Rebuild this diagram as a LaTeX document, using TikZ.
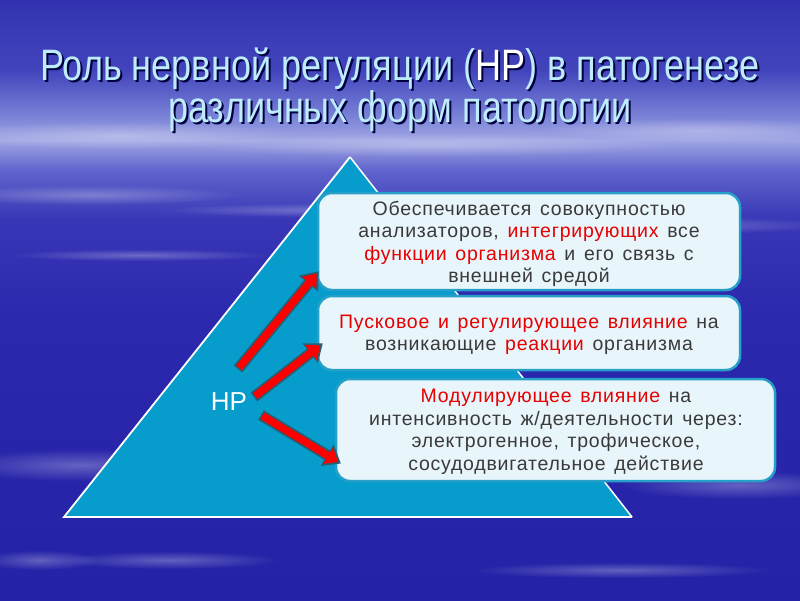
\documentclass[tikz,border=0pt]{standalone}
\usepackage{fontspec}
\setmainfont{Liberation Sans}
\newfontfamily\titlefont[FakeStretch=0.82]{Liberation Sans}
\newfontfamily\boxfont[LetterSpace=4,WordSpace=1.4]{Liberation Sans}
\usetikzlibrary{arrows.meta,fadings,calc}
\definecolor{bgA}{RGB}{50,50,176}
\definecolor{bgB}{RGB}{66,68,188}
\definecolor{bgC}{RGB}{120,128,214}
\definecolor{bgD}{RGB}{160,166,228}
\definecolor{bgE}{RGB}{96,100,204}
\definecolor{bgF}{RGB}{56,54,182}
\definecolor{bgG}{RGB}{44,40,174}
\definecolor{bgH}{RGB}{36,34,166}
\definecolor{tri}{RGB}{6,156,204}
\definecolor{boxfill}{RGB}{232,245,251}
\definecolor{boxline}{RGB}{38,160,200}
\definecolor{txt}{RGB}{58,58,58}
\definecolor{hl}{RGB}{230,0,0}
\definecolor{titlec}{RGB}{190,236,250}
\definecolor{arrline}{RGB}{40,95,115}
\tikzfading[name=softfade, inner color=transparent!20, outer color=transparent!100]
\tikzset{
 infobox/.style={draw=boxline, line width=2.5pt, fill=boxfill, rounded corners=14pt},
 boxtext/.style={text=txt, font=\boxfont\fontsize{19.5}{22.5}\selectfont, align=center},
 titletext/.style={font=\titlefont\fontsize{44}{42}\selectfont, align=center},
 redarrow/.style={-{Triangle[length=16pt,width=24pt]}, line width=11pt, arrline, shorten >=-1pt},
 redarrowin/.style={-{Triangle[length=12pt,width=18pt]}, line width=7.5pt, red},
 streak/.style={fill=white, path fading=softfade, opacity=0.35},
}
\newcommand{\hlt}[1]{\textcolor{hl}{#1}}
\begin{document}
\begin{tikzpicture}[x=1pt,y=-1pt]
\useasboundingbox (0,0) rectangle (800,600);
% sky background
\shade[top color=bgA, bottom color=bgB] (0,0) rectangle (800,70);
\shade[top color=bgB, bottom color=bgC] (0,70) rectangle (800,115);
\shade[top color=bgC, bottom color=bgD] (0,115) rectangle (800,140);
\shade[top color=bgD, bottom color=bgE] (0,140) rectangle (800,170);
\shade[top color=bgE, bottom color=bgF] (0,170) rectangle (800,220);
\shade[top color=bgF, bottom color=bgG] (0,220) rectangle (800,320);
\shade[top color=bgG, bottom color=bgH] (0,320) rectangle (800,600);
% streaks
\foreach \cx/\cy/\rx/\ry in {120/135/180/14, 430/145/240/12, 700/130/160/12, 90/195/150/10, 330/210/170/7, 660/225/180/9, 80/465/130/16, 170/560/110/9, 740/485/120/14, 620/570/150/8, 140/255/130/6, 40/560/60/10}
 \fill[streak] (\cx,\cy) ellipse [x radius=\rx, y radius=\ry];
% title
\node[text=black!75!blue, titletext] at (402,92) {Роль нервной регуляции (НР) в патогенезе\\различных форм патологии};
\node (title) [text=titlec, titletext] at (400,90) {Роль нервной регуляции (\textcolor{white}{НР}) в патогенезе\\различных форм патологии};
% triangle
\coordinate (apex) at (350,157);
\coordinate (bl) at (64,517);
\coordinate (br) at (632,517);
\fill[tri] (apex) -- (bl) -- (br) -- cycle;
\draw[white, line width=1.8pt] (apex) -- (bl) -- (br);
\draw[white, line width=1.5pt, line join=round] (br) -- (apex);
% boxes
\draw[infobox] (318,193) rectangle (740,290);
\draw[infobox] (318,296) rectangle (740,370);
\draw[infobox] (336,379) rectangle (775,481);
\node (b1) [boxtext] at (529,244) {Обеспечивается совокупностью\\анализаторов, \hlt{интегрирующих} все\\\hlt{функции организма} и его связь с\\внешней средой};
\node (b2) [boxtext] at (529,335) {\hlt{Пусковое и регулирующее влияние} на\\возникающие \hlt{реакции} организма};
\node (b3) [boxtext] at (556,432) {\hlt{Модулирующее влияние} на\\интенсивность ж/деятельности через:\\электрогенное, трофическое,\\сосудодвигательное действие};
% HP
\node (hp) [text=white, font=\fontsize{26}{30}\selectfont] at (229,402) {НР};
% arrows
\coordinate (a1s) at (238,369);
\coordinate (a1e) at (318,272);
\coordinate (a2s) at (254,397);
\coordinate (a2e) at (322,344);
\coordinate (a3s) at (261,415);
\coordinate (a3e) at (340,463);
\foreach \s/\e in {a1s/a1e, a2s/a2e, a3s/a3e}{
 \draw[redarrow] (\s) -- (\e);
 \draw[redarrowin] ($(\s)!1.5pt!(\e)$) -- ($(\e)!2pt!(\s)$);
}
\end{tikzpicture}
\end{document}
